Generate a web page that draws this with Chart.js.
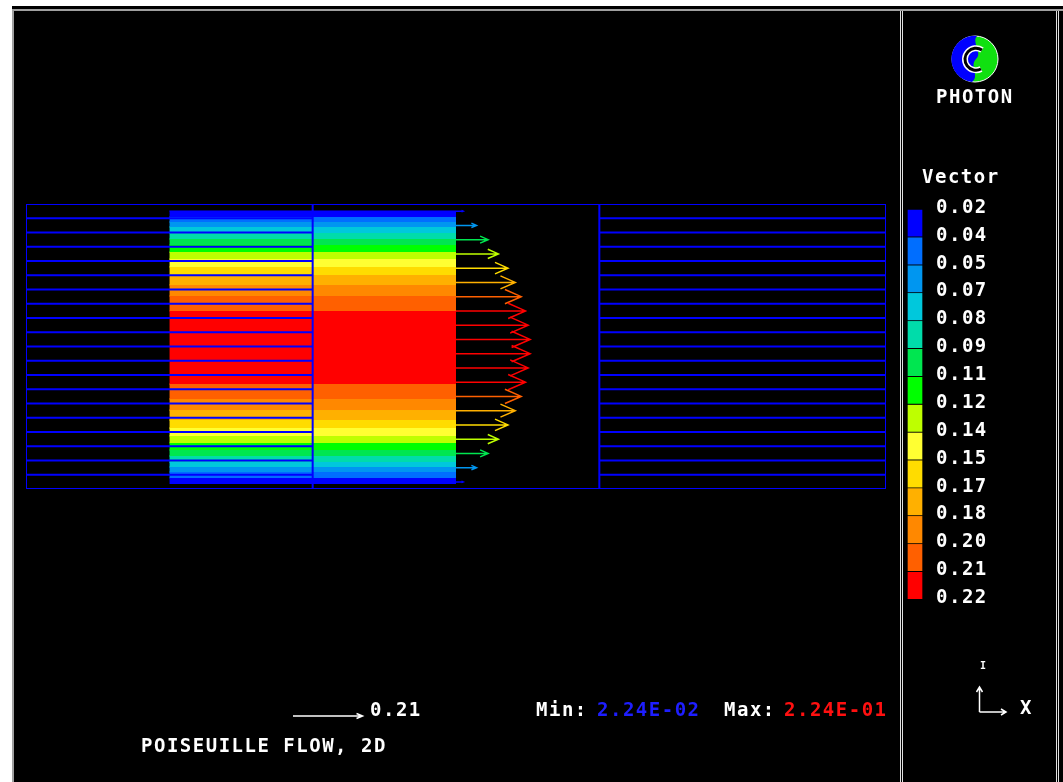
<!DOCTYPE html>
<html>
<head>
<meta charset="utf-8">
<title>POISEUILLE FLOW, 2D</title>
<script src="https://cdn.jsdelivr.net/npm/chart.js@4.4.0/dist/chart.umd.min.js"></script>
<style>
    html, body { margin: 0; padding: 0; width: 1063px; height: 782px; overflow: hidden; background: #fff; }
    #screen { position: absolute; left: 12px; top: 6px; width: 1051px; height: 776px; background: #000; }
    .gray { position: absolute; background: #a0a0a0; }
    .rule { position: absolute; width: 1px; background: #e0e0e0; top: 11px; height: 771px; }
    canvas, svg { position: absolute; }
    .txt {
        position: absolute; color: #fff; white-space: pre;
        font-family: 'DejaVu Sans Mono', monospace; font-weight: bold;
        font-size: 19px; line-height: 19px; letter-spacing: 1.5px;
    }
</style>
</head>
<body>
<div id="screen"></div>
<div class="gray" style="left:12px;top:9px;width:1051px;height:2px"></div>
<div class="gray" style="left:12px;top:9px;width:2px;height:773px"></div>
<div class="rule" style="left:900px"></div>
<div class="rule" style="left:902px"></div>
<div class="rule" style="left:1056px"></div>
<div class="rule" style="left:1058px"></div>

<canvas id="field" width="1063" height="782" style="left:0;top:0"></canvas>
<canvas id="colorScale" width="150" height="439" style="left:907px;top:185px"></canvas>

<!-- PHOTON logo -->
<svg width="50" height="50" style="left:950px;top:35px">
    <circle cx="25" cy="24" r="23" fill="#10e010" stroke="#fff" stroke-width="1"/>
    <path d="M27 1 A23 23 0 0 0 22 47 C30 41 19 31 26 24 C33 17 21 8 27 1 Z" fill="#0000ff"/>
    <path d="M32 15 A11 11 0 1 0 31 34" fill="none" stroke="#fff" stroke-width="6"/>
    <path d="M32 15 A11 11 0 1 0 31 34" fill="none" stroke="#000" stroke-width="3"/>
</svg>

<!-- axis triad -->
<svg width="90" height="75" style="left:960px;top:650px">
    <text x="23" y="19" fill="#fff" font-family="DejaVu Sans Mono, monospace" font-weight="bold" font-size="10" text-anchor="middle">I</text>
    <path d="M19.5 62 L19.5 37 M16.5 42 L19.5 37 L22.5 42 M19.5 62 L46 62 M41 59 L46 62 L41 65" fill="none" stroke="#fff" stroke-width="1.5"/>
</svg>

<div class="txt" style="left:936px;top:87px">PHOTON</div>
<div class="txt" style="left:922px;top:167px">Vector</div>
<div class="txt" style="left:1020px;top:698px">X</div>
<div class="txt" id="refLabel" style="left:370px;top:700px"></div>
<div class="txt" style="left:536px;top:700px">Min:</div>
<div class="txt" id="minLabel" style="left:597px;top:700px;color:#1e1eff"></div>
<div class="txt" style="left:724px;top:700px">Max:</div>
<div class="txt" id="maxLabel" style="left:784px;top:700px;color:#ff1010"></div>
<div class="txt" id="caption" style="left:141px;top:736px"></div>

<script>
// ---- data ----
const caption = 'POISEUILLE FLOW, 2D';
const vMin = 0.0224;
const vMax = 0.224;
const refVector = 0.21;

// legend levels (top to bottom) and the 14 contour colours between them
const levelLabels = ['0.02', '0.04', '0.05', '0.07', '0.08', '0.09', '0.11', '0.12',
                     '0.14', '0.15', '0.17', '0.18', '0.20', '0.21', '0.22'];
const palette = ['#0000ff', '#006eff', '#0096f0', '#00c8dc', '#00dcaa', '#00e650', '#00ff00',
                 '#beff00', '#ffff32', '#ffdc00', '#ffb000', '#ff8800', '#ff6000', '#ff0000'];

// mesh: 3 columns x 20 rows
const xGrid = [0, 1, 2, 3];
const yGrid = [0, 1, 2, 3, 4, 5, 6, 7, 8, 9, 10, 11, 12, 13, 14, 15, 16, 17, 18, 19, 20];
const meshColumns = [0, 2];   // columns where the cell lines are visible

// contour bands: x range of the plotted field, band edges (top to bottom), colour index per band
const fieldX = [0.5, 1.5];
const bandEdges = [19.51, 19.09, 18.74, 18.39, 17.96, 17.54, 17.12, 16.63, 16.14, 15.58, 15.02, 14.32, 13.54, 12.49,
                   7.37, 6.32, 5.54, 4.84, 4.28, 3.72, 3.23, 2.74, 2.32, 1.89, 1.54, 1.19, 0.77, 0.35];
const bandLevel = [0, 1, 2, 3, 4, 5, 6, 7, 8, 9, 10, 11, 12, 13, 12, 11, 10, 9, 8, 7, 6, 5, 4, 3, 2, 1, 0];

// velocity vectors at the cell centres of column 2
const arrowX = 1.5;
const rowY = [19.5, 18.5, 17.5, 16.5, 15.5, 14.5, 13.5, 12.5, 11.5, 10.5,
              9.5, 8.5, 7.5, 6.5, 5.5, 4.5, 3.5, 2.5, 1.5, 0.5];
const rowU = [0.022, 0.062, 0.097, 0.128, 0.157, 0.179, 0.197, 0.210, 0.218, 0.224,
              0.224, 0.218, 0.210, 0.197, 0.179, 0.157, 0.128, 0.097, 0.062, 0.022];
const vectorUnit = 1.155;   // x-axis units per 1 m/s

// ---- helpers ----
function fmtE(v) {
    const [m, e] = v.toExponential(2).split('e');
    const n = parseInt(e, 10);
    return m + 'E' + (n < 0 ? '-' : '+') + String(Math.abs(n)).padStart(2, '0');
}

function levelColor(u) {
    const n = palette.length;
    let k = Math.floor((u - vMin) / (vMax - vMin) * n);
    k = Math.max(0, Math.min(n - 1, k));
    return palette[k];
}

function drawArrow(ctx, x0, x1, y, color, back, half) {
    ctx.strokeStyle = color;
    ctx.beginPath();
    ctx.moveTo(x0, y);
    ctx.lineTo(x1, y);
    ctx.moveTo(x1 - back, y - half);
    ctx.lineTo(x1, y);
    ctx.lineTo(x1 - back, y + half);
    ctx.stroke();
}

document.getElementById('caption').textContent = caption;
document.getElementById('refLabel').textContent = refVector.toFixed(2);
document.getElementById('minLabel').textContent = fmtE(vMin);
document.getElementById('maxLabel').textContent = fmtE(vMax);

// ---- mesh lines ----
const hLines = [];
yGrid.forEach((y, i) => {
    const edge = i === 0 || i === yGrid.length - 1;
    const spans = edge ? [[xGrid[0], xGrid[xGrid.length - 1]]]
                       : meshColumns.map(c => [xGrid[c], xGrid[c + 1]]);
    spans.forEach(([a, b]) => hLines.push({ x: a, y }, { x: b, y }, { x: b, y: null }));
});
const vLines = [];
xGrid.forEach(x => vLines.push({ x, y: yGrid[0] }, { x, y: yGrid[yGrid.length - 1] }, { x, y: null }));

const meshStyle = { borderColor: '#0000ff', borderWidth: 2, pointRadius: 0, fill: false, spanGaps: false, order: 0 };

const bandSets = bandLevel.map((lev, i) => ({
    data: [{ x: fieldX[0], y: bandEdges[i] }, { x: fieldX[1], y: bandEdges[i] }],
    fill: { value: bandEdges[i + 1] },
    backgroundColor: palette[lev],
    borderColor: palette[lev],
    borderWidth: 1,
    pointRadius: 0,
    order: 1
}));

const vectorPlugin = {
    id: 'vectors',
    afterDatasetsDraw(chart) {
        const { ctx, scales: { x, y } } = chart;
        ctx.save();
        ctx.lineWidth = 1.5;
        rowY.forEach((yy, i) => {
            const x0 = x.getPixelForValue(arrowX);
            const x1 = x.getPixelForValue(arrowX + rowU[i] * vectorUnit);
            const len = x1 - x0;
            drawArrow(ctx, x0, x1, y.getPixelForValue(yy), levelColor(rowU[i]), len * 0.25, len * 0.11);
        });
        // reference vector below the plot
        const refLen = x.getPixelForValue(refVector * vectorUnit) - x.getPixelForValue(0);
        drawArrow(ctx, 293, 293 + refLen, 716, '#fff', 6, 2.5);
        ctx.restore();
    }
};

new Chart(document.getElementById('field'), {
    type: 'line',
    data: {
        datasets: [
            Object.assign({ data: hLines }, meshStyle),
            Object.assign({ data: vLines }, meshStyle),
            ...bandSets
        ]
    },
    options: {
        responsive: false,
        animation: false,
        devicePixelRatio: 1,
        events: [],
        layout: { padding: { left: 26, right: 177, top: 204, bottom: 293 } },
        scales: {
            x: { type: 'linear', min: xGrid[0], max: xGrid[xGrid.length - 1], display: false },
            y: { type: 'linear', min: yGrid[0], max: yGrid[yGrid.length - 1], display: false }
        },
        plugins: {
            legend: { display: false },
            tooltip: { enabled: false }
        }
    },
    plugins: [vectorPlugin]
});

// ---- colour scale ----
const spacing = {
    id: 'spacing',
    beforeDraw(chart) { chart.ctx.letterSpacing = '1.5px'; }
};

new Chart(document.getElementById('colorScale'), {
    type: 'bar',
    data: {
        labels: ['Vector'],
        datasets: palette.map(c => ({
            data: [1],
            backgroundColor: c,
            borderColor: '#000',
            borderWidth: 1,
            barPercentage: 1,
            categoryPercentage: 1,
            stack: 'levels'
        }))
    },
    options: {
        responsive: false,
        animation: false,
        devicePixelRatio: 1,
        events: [],
        layout: { padding: { top: 20, bottom: 21, left: 0, right: 0 } },
        scales: {
            x: { display: false, stacked: true },
            y: {
                stacked: true,
                min: 0,
                max: palette.length,
                reverse: true,
                position: 'right',
                grid: { display: false, drawTicks: false },
                border: { display: false },
                afterFit: s => { s.width = 134; },
                ticks: {
                    stepSize: 1,
                    autoSkip: false,
                    padding: 13,
                    labelOffset: -1.5,
                    color: '#fff',
                    font: { family: "'DejaVu Sans Mono', monospace", size: 19, weight: 'bold' },
                    callback: v => levelLabels[v]
                }
            }
        },
        plugins: {
            legend: { display: false },
            tooltip: { enabled: false }
        }
    },
    plugins: [spacing]
});
</script>
</body>
</html>
